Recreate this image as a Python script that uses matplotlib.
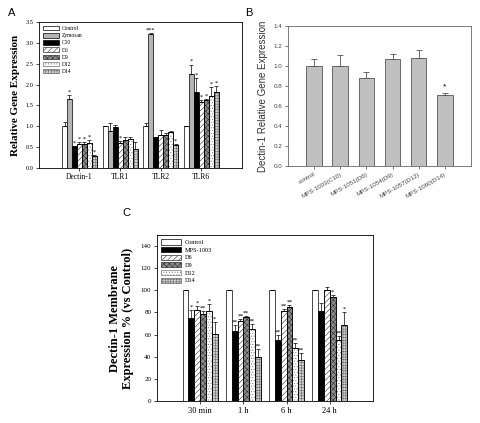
import numpy as np
import matplotlib
matplotlib.use("Agg")
import matplotlib.pyplot as plt

plt.rcParams['hatch.linewidth'] = 0.4
SERIF = ['Liberation Serif', 'DejaVu Serif']
SANS = ['Liberation Sans', 'DejaVu Sans']

# ---------------- Panel A data ----------------
a_genes = ["Dectin-1", "TLR1", "TLR2", "TLR6"]
a_series = ["Control", "Zymosan", "C10", "D6", "D9", "D12", "D14"]
a_control = [1.00, 1.00, 1.00, 1.00]
a_zymosan = [1.65, 0.88, 3.22, 2.25]
a_c10 = [0.53, 0.98, 0.75, 1.82]
a_d6 = [0.58, 0.60, 0.80, 1.58]
a_d9 = [0.58, 0.68, 0.80, 1.62]
a_d12 = [0.60, 0.70, 0.86, 1.72]
a_d14 = [0.29, 0.45, 0.56, 1.82]
a_control_err = [0.10, 0.00, 0.08, 0.00]
a_zymosan_err = [0.10, 0.20, 0.01, 0.23]
a_c10_err = [0.00, 0.04, 0.00, 0.33]
a_d6_err = [0.05, 0.04, 0.12, 0.05]
a_d9_err = [0.03, 0.05, 0.03, 0.03]
a_d12_err = [0.07, 0.03, 0.02, 0.23]
a_d14_err = [0.02, 0.17, 0.02, 0.15]
a_stars = [["", "*", "*", "*", "*", "*", "*"],
           ["", "", "", "*", "", "", ""],
           ["", "***", "", "", "", "", "*"],
           ["", "*", "*", "*", "*", "*", "*"]]

# ---------------- Panel B data ----------------
b_labels = ["control", "MPS-1003(C10)", "MPS-1051(D6)", "MPS-1054(D9)",
            "MPS-1057(D12)", "MPS-1060(D14)"]
b_values = [1.00, 1.00, 0.88, 1.07, 1.08, 0.71]
b_err = [0.07, 0.11, 0.06, 0.05, 0.08, 0.02]
b_stars = ["", "", "", "", "", "*"]

# ---------------- Panel C data ----------------
c_times = ["30 min", "1 h", "6 h", "24 h"]
c_series = ["Control", "MPS-1003", "D6", "D9", "D12", "D14"]
c_control = [100, 100, 100, 100]
c_mps = [75, 63, 55, 81]
c_d6 = [82, 72, 81, 100]
c_d9 = [79, 76, 85, 94]
c_d12 = [81, 65, 48, 55]
c_d14 = [61, 40, 37, 69]
c_control_err = [0, 0, 0, 0]
c_mps_err = [7, 6, 5, 8]
c_d6_err = [4, 2, 2, 3]
c_d9_err = [2, 1, 2, 2]
c_d12_err = [7, 5, 4, 4]
c_d14_err = [10, 7, 6, 11]
c_stars = [["", "*", "*", "**", "*", "*"],
           ["", "**", "**", "**", "**", "**"],
           ["", "**", "**", "**", "**", "**"],
           ["", "", "", "*", "**", "*"]]

# styles: (facecolor, hatch, hatchcolor)
styles = [("white", None, None), ("#b4b4b4", None, None), ("black", None, None),
          ("white", "//////", "#333333"), ("#8a8a8a", "xxxxxx", "#303030"),
          ("white", "......", "#777777"), ("#cfcfcf", "++++++", "#6a6a6a")]
c_styles = [styles[0], styles[2], styles[3], styles[4], styles[5], styles[6]]

fig = plt.figure(figsize=(4.8, 4.23), dpi=100)


def grouped(ax, values, errs, stars, stys, width, labels, star_fs, star_pad):
    n = len(values)
    x = np.arange(1, len(values[0]) + 1)
    handles = []
    for i in range(n):
        pos = x + (i - (n - 1) / 2) * width
        fc, h, hc = stys[i]
        ax.bar(pos, values[i], width=width, color=fc, edgecolor="black",
               linewidth=0.5, zorder=2)
        if h:
            ax.bar(pos, values[i], width=width, color="none", edgecolor=hc,
                   linewidth=0, hatch=h, zorder=2.1)
            ax.bar(pos, values[i], width=width, color="none",
                   edgecolor="black", linewidth=0.5, zorder=2.2)
        e = np.array(errs[i])
        ax.errorbar(pos, values[i], yerr=[np.zeros_like(e), e], fmt="none",
                    ecolor="black", elinewidth=0.5, capsize=1.3,
                    capthick=0.5, zorder=3)
        for j in range(len(x)):
            s = stars[j][i]
            if s:
                ax.text(pos[j], values[i][j] + errs[i][j] + star_pad, s,
                        ha="center", va="bottom", fontsize=star_fs,
                        family=SERIF)
        handles.append(plt.Rectangle((0, 0), 1, 1, facecolor=fc,
                                     edgecolor=hc if h else "black",
                                     hatch=h, linewidth=0.5, label=labels[i]))
    return x, handles


# ---------------- Panel A ----------------
axA = fig.add_axes([0.081, 0.603, 0.423, 0.345])
xa, hA = grouped(axA,
                 [a_control, a_zymosan, a_c10, a_d6, a_d9, a_d12, a_d14],
                 [a_control_err, a_zymosan_err, a_c10_err, a_d6_err, a_d9_err,
                  a_d12_err, a_d14_err],
                 a_stars, styles, 0.123, a_series, 4.5, 0.01)
axA.set_xlim(0, 5)
axA.set_ylim(0, 3.5)
axA.set_yticks(np.arange(0, 3.51, 0.5))
axA.set_yticklabels([f"{v:.1f}" for v in np.arange(0, 3.51, 0.5)],
                    family=SERIF, fontsize=4.5)
axA.set_xticks(xa)
axA.set_xticklabels(a_genes, family=SERIF, fontsize=5.5)
axA.tick_params(length=2, width=0.5, pad=2)
axA.set_ylabel("Relative Gene Expression", family=SERIF, fontsize=8,
               fontweight="bold", labelpad=4)
for s in axA.spines.values():
    s.set_linewidth(0.6)
axA.legend(handles=hA, loc="upper left", frameon=False,
           prop={"family": SERIF, "size": 4},
           handlelength=3.0, handleheight=0.9, labelspacing=0.35,
           borderaxespad=0.3, handletextpad=0.5)
fig.text(8 / 480, 1 - 13 / 423, "A", family=SANS, fontsize=8, va="center")

# ---------------- Panel B ----------------
axB = fig.add_axes([0.600, 0.6076, 0.381, 0.331])
xb = np.arange(len(b_values))
axB.bar(xb, b_values, width=0.6, color="#c0c0c0", edgecolor="#555555",
        linewidth=0.6, zorder=2)
be = np.array(b_err)
axB.errorbar(xb, b_values, yerr=[np.zeros_like(be), be], fmt="none",
             ecolor="#555555", elinewidth=0.6, capsize=2, capthick=0.6)
for i, s in enumerate(b_stars):
    if s:
        axB.text(xb[i], b_values[i] + b_err[i] + 0.03, s, ha="center",
                 va="bottom", fontsize=6, family=SANS)
axB.set_xlim(-1, 6)
axB.set_ylim(0, 1.4)
axB.set_yticks(np.arange(0, 1.41, 0.2))
axB.set_yticklabels([f"{v:.1f}" for v in np.arange(0, 1.41, 0.2)],
                    family=SANS, fontsize=4.5)
axB.set_xticks(xb)
axB.set_xticklabels(b_labels, family=SANS, fontsize=4.5, rotation=30,
                    ha="right", rotation_mode="anchor")
axB.tick_params(length=2, width=0.5, pad=2, colors="#444444")
axB.set_ylabel("Dectin-1 Relative Gene Expression", family=SANS, fontsize=7,
               color="#333333", labelpad=4)
for s in axB.spines.values():
    s.set_linewidth(0.6)
    s.set_color("#666666")
fig.text(245 / 480, 1 - 13 / 423, "B", family=SANS, fontsize=8, va="center")

# ---------------- Panel C ----------------
axC = fig.add_axes([0.327, 0.052, 0.450, 0.3924])
xc, hC = grouped(axC, [c_control, c_mps, c_d6, c_d9, c_d12, c_d14],
                 [c_control_err, c_mps_err, c_d6_err, c_d9_err, c_d12_err,
                  c_d14_err],
                 c_stars, c_styles, 0.135, c_series, 4.5, 0.3)
axC.set_xlim(0, 5)
axC.set_ylim(0, 150)
axC.set_yticks(np.arange(0, 141, 20))
axC.set_yticklabels([str(v) for v in range(0, 141, 20)], family=SERIF,
                    fontsize=5)
axC.set_xticks(xc)
axC.set_xticklabels(c_times, family=SERIF, fontsize=6)
axC.tick_params(length=2, width=0.5, pad=2)
axC.set_ylabel("Dectin-1 Membrane\nExpression % (vs Control)", family=SERIF,
               fontsize=9, fontweight="bold", labelpad=5, linespacing=1.1)
for s in axC.spines.values():
    s.set_linewidth(0.6)
axC.legend(handles=hC, loc="upper left", frameon=False,
           prop={"family": SERIF, "size": 4.5},
           handlelength=3.2, handleheight=0.9, labelspacing=0.3,
           borderaxespad=0.3, handletextpad=0.5)
fig.text(122 / 480, 1 - 213 / 423, "C", family=SANS, fontsize=8, va="center")

fig.savefig("out.png", dpi=100)
